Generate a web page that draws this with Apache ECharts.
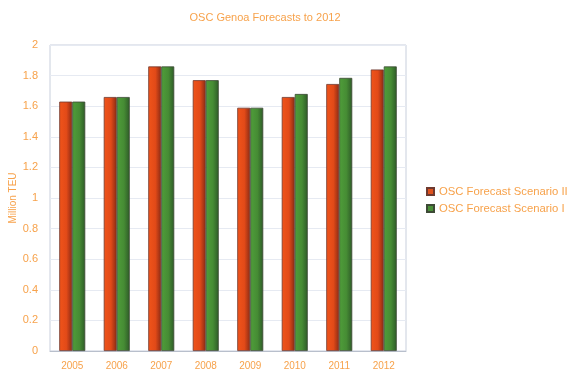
<!DOCTYPE html>
<html>
<head>
<meta charset="utf-8">
<script src="https://cdn.jsdelivr.net/npm/echarts@6/dist/echarts.min.js"></script>
<style>html,body{margin:0;padding:0;background:#fff;}#c{width:570px;height:379px;}</style>
</head>
<body>
<div id="c"></div>
<script>
const categories = ['2005','2006','2007','2008','2009','2010','2011','2012'];
const scenarioII = [1.63, 1.66, 1.86, 1.77, 1.59, 1.66, 1.745, 1.84];
const scenarioI  = [1.63, 1.66, 1.86, 1.77, 1.59, 1.68, 1.785, 1.86];
const yTicks = [0, 0.2, 0.4, 0.6, 0.8, 1, 1.2, 1.4, 1.6, 1.8, 2];

const orange = '#f7a24b';
const chart = echarts.init(document.getElementById('c'));
function grad(a, b, c) {
  return new echarts.graphic.LinearGradient(0, 0, 1, 0, [
    {offset: 0, color: a}, {offset: 0.55, color: b}, {offset: 1, color: c}
  ]);
}
chart.setOption({
  animation: false,
  title: {
    text: 'OSC Genoa Forecasts to 2012',
    left: 260, top: 7, textAlign: 'center',
    textStyle: {color: orange, fontSize: 11, fontWeight: 'normal', fontFamily: 'Liberation Sans'}
  },
  legend: {
    orient: 'vertical', left: 421, top: 181, itemWidth: 7, itemHeight: 7, itemGap: 6,
    icon: 'rect',
    textStyle: {color: orange, fontSize: 11.3, fontFamily: 'Liberation Sans'},
    data: [
      {name: 'OSC Forecast Scenario II', itemStyle: {color: '#e0521e'}},
      {name: 'OSC Forecast Scenario I', itemStyle: {color: '#4b9038'}}
    ]
  },
  grid: {left: 50, right: 164, top: 45, bottom: 28, outerBoundsMode: 'none', containLabel: false,
    show: true, borderColor: '#c8cfdc', borderWidth: 1},
  xAxis: {
    type: 'category', data: categories,
    axisLine: {lineStyle: {color: '#b8bfcc'}},
    axisTick: {show: false},
    axisLabel: {color: orange, fontSize: 10, margin: 10, fontFamily: 'Liberation Sans'}
  },
  yAxis: {
    type: 'value', min: 0, max: 2, interval: 0.2,
    name: 'Million TEU', nameLocation: 'middle', nameGap: 32, nameRotate: 90, nameMoveOverlap: false,
    nameTextStyle: {color: orange, fontSize: 10, fontFamily: 'Liberation Sans'},
    axisLine: {show: false}, axisTick: {show: false},
    axisLabel: {color: orange, fontSize: 11, margin: 12, fontFamily: 'Liberation Sans',
      formatter: v => String(parseFloat(v.toFixed(1)))},
    splitLine: {lineStyle: {color: '#e6eaf2'}}
  },
  series: [
    {name: 'OSC Forecast Scenario II', type: 'bar', data: scenarioII, barWidth: 13, barGap: '0%',
      itemStyle: {color: grad('#f0541a', '#e24a18', '#8a2a14'), borderColor: '#6e3a30', borderWidth: 0.8}},
    {name: 'OSC Forecast Scenario I', type: 'bar', data: scenarioI, barWidth: 13,
      itemStyle: {color: grad('#4f9e3a', '#468c34', '#2e5a28'), borderColor: '#3d4a36', borderWidth: 0.8}}
  ]
});
</script>
</body>
</html>
